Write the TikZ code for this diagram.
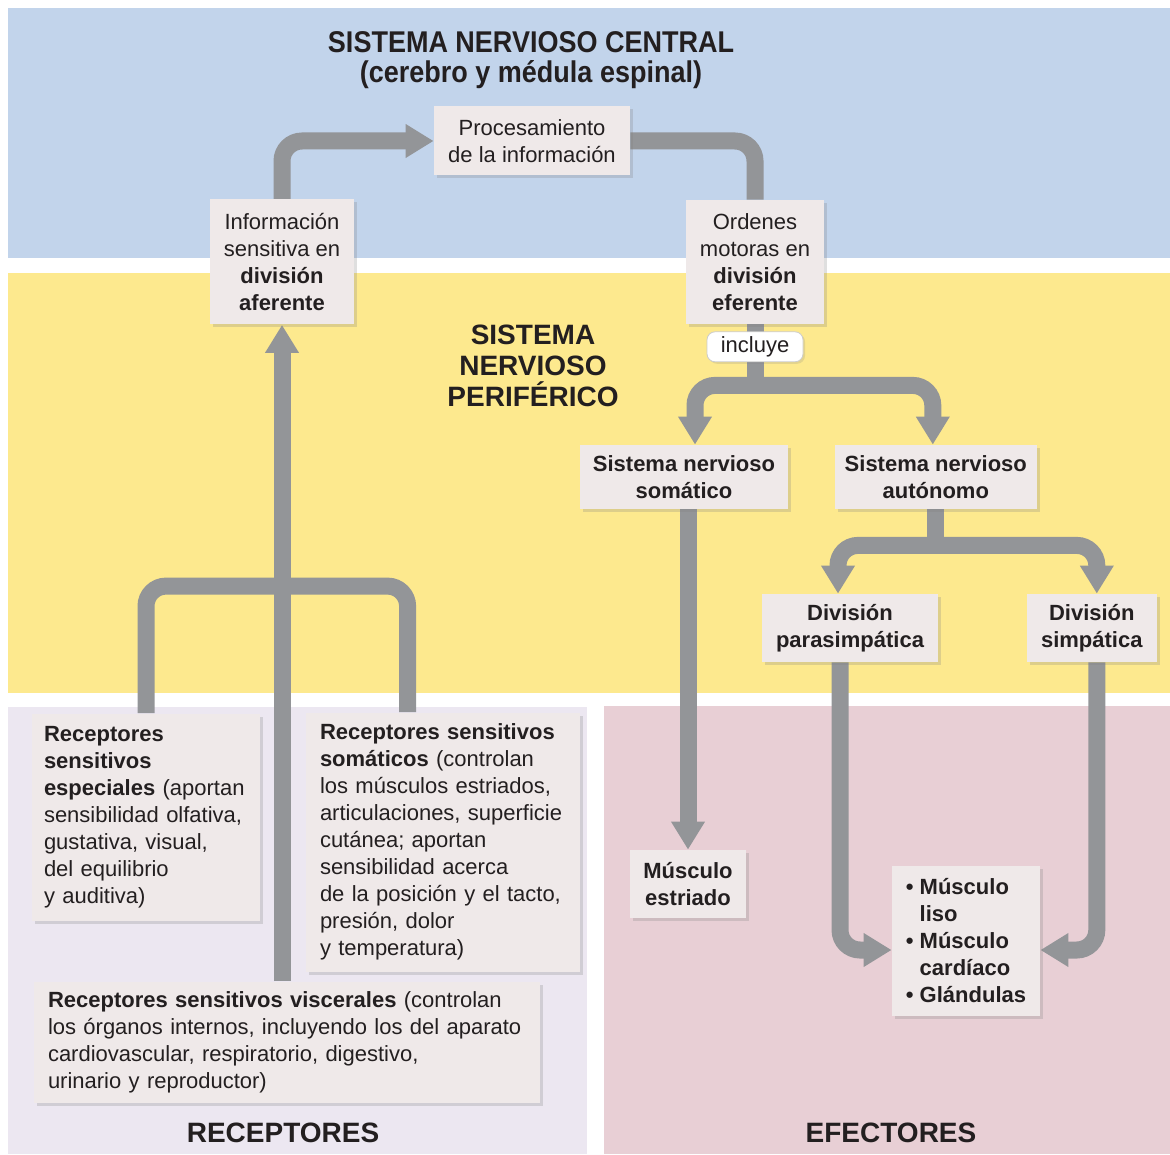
\documentclass[tikz,border=0pt]{standalone}
\usepackage{fontspec}
\setmainfont{Liberation Sans}
\newfontfamily\titlefont[FakeStretch=0.9]{Liberation Sans}
\usepackage{tikz}
\usetikzlibrary{arrows.meta, positioning, calc, shadows}
\usepackage{xcolor}
\definecolor{CentralBlue}{HTML}{C2D4EB}
\definecolor{PeriphYellow}{HTML}{FDE98E}
\definecolor{ReceptLilac}{HTML}{ECE7F1}
\definecolor{EffectPink}{HTML}{E8CFD5}
\definecolor{BoxGrey}{HTML}{EFE9E9}
\definecolor{ArrowGrey}{HTML}{939598}
\definecolor{InkGrey}{HTML}{231F20}
\pgfdeclarelayer{bands}
\pgfdeclarelayer{arrows}
\pgfsetlayers{bands,arrows,main}
\tikzset{
  % Plain label box
  box/.style={
    rectangle, fill=BoxGrey, text=InkGrey,
    inner sep=0pt, align=center,
    font=\fontsize{11}{13.5}\selectfont,
    drop shadow={shadow xshift=1.5pt, shadow yshift=-1.5pt, opacity=0.25}
  },
  % Bold label box
  boldbox/.style={
    box, font=\fontsize{11}{13.5}\selectfont\bfseries
  },
  % Receptor text box
  textbox/.style={
    box, align=left, inner xsep=6pt
  },
  % Small rounded tag
  tag/.style={
    rectangle, rounded corners=4pt, draw=black!20, fill=white,
    text=InkGrey, font=\fontsize{11}{13.5}\selectfont,
    minimum width=48pt, minimum height=15pt, inner sep=0pt,
    drop shadow={shadow xshift=1pt, shadow yshift=-1pt, opacity=0.2}
  },
  % Region title
  region/.style={
    text=InkGrey, align=center,
    font=\fontsize{14}{15.5}\selectfont\bfseries
  },
  % Thick arrow
  flow/.style={
    draw=ArrowGrey, line width=8.5pt, rounded corners=10pt,
    -{Triangle[length=14pt, width=16pt]}
  },
  % Thick line, no tip
  trunk/.style={
    draw=ArrowGrey, line width=8.5pt, rounded corners=10pt
  }
}

\begin{document}
\begin{tikzpicture}[x=0.5pt, y=-0.5pt]
\useasboundingbox (0,0) rectangle (1170,1154);

% Background regions
\begin{pgfonlayer}{bands}
  \fill[CentralBlue]  (8,8)     rectangle (1170,258);
  \fill[PeriphYellow] (8,273)   rectangle (1170,693);
  \fill[ReceptLilac]  (8,707)   rectangle (587,1154);
  \fill[EffectPink]   (604,706) rectangle (1170,1154);
\end{pgfonlayer}

% Region titles
\node[region, font=\titlefont\fontsize{15}{15}\selectfont\bfseries] (snc) at (531,60)
  {SISTEMA NERVIOSO CENTRAL\\(cerebro y médula espinal)};
\node[region] (snp) at (533,366) {SISTEMA\\NERVIOSO\\PERIFÉRICO};
\node[region] (receptores) at (283,1133) {RECEPTORES};
\node[region] (efectores) at (891,1133) {EFECTORES};

% Central nervous system
\node[box, minimum width=98pt, minimum height=34.5pt] (proc) at (532,141)
  {Procesamiento\\de la información};
\node[box, minimum width=72pt, minimum height=62.5pt] (aferente) at (282,262)
  {Información\\sensitiva en\\\textbf{división}\\\textbf{aferente}};
\node[box, minimum width=69pt, minimum height=62pt] (eferente) at (755,262)
  {Ordenes\\motoras en\\\textbf{división}\\\textbf{eferente}};
\node[tag, below=3.5pt of eferente] (incluye) {incluye};

% Peripheral nervous system
\node[boldbox, minimum width=104pt, minimum height=32pt] (somatico) at (684,477)
  {Sistema nervioso\\somático};
\node[boldbox, minimum width=101pt, minimum height=32pt, right=23pt of somatico] (autonomo)
  {Sistema nervioso\\autónomo};
\node[boldbox, minimum width=88pt, minimum height=34pt] (parasimp) at (850,628)
  {División\\parasimpática};
\node[boldbox, minimum width=65pt, minimum height=34pt, right=44pt of parasimp] (simpat)
  {División\\simpática};

% Effectors
\node[boldbox, minimum width=58pt, minimum height=34pt] (estriado) at (688,884)
  {Músculo\\estriado};
\node[boldbox, align=left, minimum width=74pt, minimum height=75pt] (liso) at (966,941)
  {\textbullet\ Músculo\\\phantom{\textbullet\ }liso\\\textbullet\ Músculo\\\phantom{\textbullet\ }cardíaco\\\textbullet\ Glándulas};

% Receptors
\node[textbox, text width=102pt, minimum height=103.5pt] (especiales) at (146,817)
  {\textbf{Receptores}\\\textbf{sensitivos}\\\textbf{especiales} (aportan\\sensibilidad olfativa,\\gustativa, visual,\\del equilibrio\\y auditiva)};
\node[textbox, inner xsep=7pt, text width=123pt, minimum height=129.5pt] (somaticos) at (443,842)
  {\textbf{Receptores sensitivos}\\\textbf{somáticos} (controlan\\los músculos estriados,\\articulaciones, superficie\\cutánea; aportan\\sensibilidad acerca\\de la posición y el tacto,\\presión, dolor\\y temperatura)};
\node[textbox, inner xsep=7pt, text width=239pt, minimum height=60.5pt] (viscerales) at (287,1042)
  {\textbf{Receptores sensitivos viscerales} (controlan\\los órganos internos, incluyendo los del aparato\\cardiovascular, respiratorio, digestivo,\\urinario y reproductor)};

% Arrows
\begin{pgfonlayer}{arrows}
  \draw[flow]  (aferente.north) |- (proc.west);
  \draw[trunk] (proc.east) -| (eferente.north);
  \draw[flow]  (viscerales.north -| aferente.south) -- (aferente.south);
  \draw[trunk] (especiales.north) -- ++(0,-127) -| ($(somaticos.north west)+(102,0)$);

  \draw[trunk] (eferente.south) -- ++(0,61) coordinate (split1);
  \draw[flow]  (split1) -| ([xshift=5.5pt]somatico.north);
  \draw[flow]  (split1) -| ([xshift=-1.5pt]autonomo.north);

  \draw[trunk] (autonomo.south) -- ++(0,36) coordinate (split2);
  \draw[flow]  (split2) -| ([xshift=-6pt]parasimp.north);
  \draw[flow]  (split2) -| ([xshift=2.5pt]simpat.north);

  \draw[flow]  (somatico.south -| estriado.north) -- (estriado.north);
  \draw[flow]  ([xshift=-5pt]parasimp.south) |- ([yshift=-4.5pt]liso.west);
  \draw[flow]  ([xshift=2.5pt]simpat.south) |- ([yshift=-4.5pt]liso.east);
\end{pgfonlayer}

\end{tikzpicture}
\end{document}
